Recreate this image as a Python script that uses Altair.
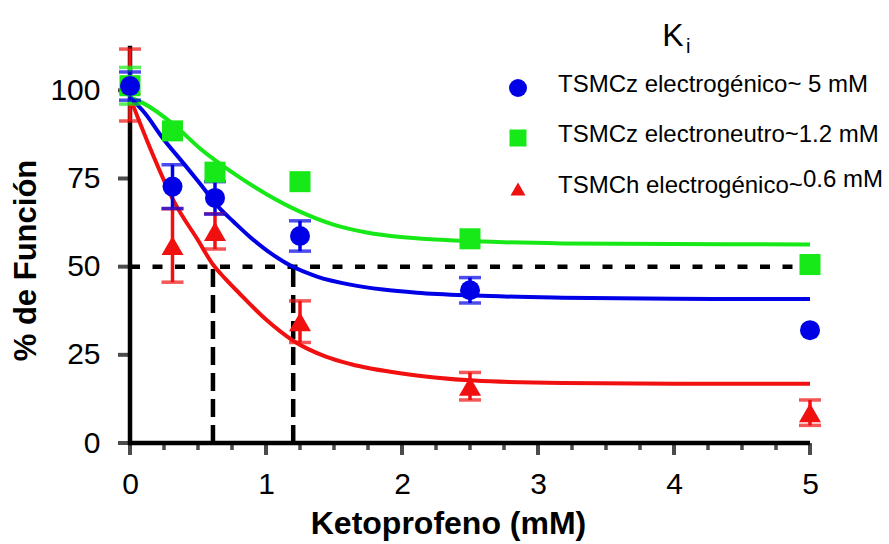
import altair as alt
import pandas as pd

FONT = "Liberation Sans, Arial, Helvetica, sans-serif"

# ---------------- data ----------------
series = ["TSMCh electrogénico", "TSMCz electroneutro", "TSMCz electrogénico"]
colors = ["#f01010", "#17e817", "#0000e6"]
shapes = ["triangle-up", "square", "circle"]
sizes = [484, 400, 441]

dose = [0, 0.3125, 0.625, 1.25, 2.5, 5]

red_mean = [101.5, 56.0, 60.0, 34.4, 16.1, 8.6]
red_err = [10.2, 10.4, 5.0, 5.9, 3.9, 3.6]
green_mean = [101.3, 88.5, 76.8, 74.1, 57.9, 50.6]
green_err = [5.2, 0, 0, 0, 0, 0]
blue_mean = [101.2, 72.7, 69.5, 58.7, 43.3, 32.0]
blue_err = [4.0, 6.2, 4.6, 4.3, 3.6, 0]

red_fit_x = [0, 0.13, 0.33, 0.5, 0.61, 0.7, 0.8, 1.0, 1.2, 1.44, 1.62, 2.0, 2.24, 2.53, 3.18, 4.0, 5.0]
red_fit_y = [98.0, 85.3, 68.0, 57.5, 50.6, 46.6, 42.6, 35.0, 29.0, 24.5, 22.4, 19.7, 18.6, 17.7, 17.0, 16.8, 16.8]
green_fit_x = [0, 0.1, 0.33, 0.515, 0.76, 1.01, 1.25, 1.49, 1.74, 1.99, 2.24, 2.53, 3.18, 4.0, 5.0]
green_fit_y = [98.0, 96.3, 90.0, 83.5, 76.5, 70.4, 65.6, 62.0, 59.7, 58.4, 57.7, 57.2, 56.6, 56.4, 56.3]
blue_fit_x = [0, 0.11, 0.24, 0.4, 0.515, 0.66, 0.76, 0.88, 1.01, 1.18, 1.375, 1.62, 1.86, 2.11, 2.53, 3.18, 4.0, 5.0]
blue_fit_y = [98.0, 93.5, 86.5, 79.0, 73.5, 66.5, 62.8, 58.5, 54.5, 50.3, 47.2, 44.9, 43.5, 42.6, 41.8, 41.2, 40.9, 40.8]

half_level = 50
ki_x = [0.61, 1.2]

x_range = [0, 5]
y_range = [0, 112]
x_major = [0, 1, 2, 3, 4, 5]
x_minor = [i * 0.25 for i in range(21)]
y_ticks = [0, 25, 50, 75, 100]

legend_title = "K"
legend_sub = "i"
legend_texts = ["TSMCz electrogénico~ 5 mM", "TSMCz electroneutro~1.2 mM", "TSMCh electrogénico~"]
legend_sup = "0.6 mM"
legend_order = ["TSMCz electrogénico", "TSMCz electroneutro", "TSMCh electrogénico"]

# ---------------- tables ----------------
pts = []
for s, m, e in zip(series, [red_mean, green_mean, blue_mean], [red_err, green_err, blue_err]):
    for x, y, er in zip(dose, m, e):
        pts.append({"series": s, "x": x, "y": y, "lo": y - er, "hi": y + er, "err": er})
pts = pd.DataFrame(pts)

fit = []
for s, fx, fy in zip(series, [red_fit_x, green_fit_x, blue_fit_x], [red_fit_y, green_fit_y, blue_fit_y]):
    for x, y in zip(fx, fy):
        fit.append({"series": s, "x": x, "y": y})
fit = pd.DataFrame(fit)

hline = pd.DataFrame({"x": [0], "x2": [5], "y": [half_level]})
vlines = pd.DataFrame({"x": ki_x, "y": [0] * len(ki_x), "y2": [half_level] * len(ki_x)})
xline = pd.DataFrame({"x": [x_range[0]], "x2": [x_range[1]], "y": [y_range[0]]})
yline = pd.DataFrame({"x": [x_range[0]], "y": [y_range[0]], "y2": [y_range[1]]})
xmaj_df = pd.DataFrame({"x": x_major})
xmin_df = pd.DataFrame({"x": [v for v in x_minor if v % 1 != 0]})
ytk_df = pd.DataFrame({"y": y_ticks})

xscale = alt.Scale(domain=x_range, nice=False, zero=False)
yscale = alt.Scale(domain=y_range, nice=False)
cscale = alt.Scale(domain=series, range=colors)
shscale = alt.Scale(domain=series, range=shapes)
szscale = alt.Scale(domain=series, range=sizes)

x_axis = alt.Axis(
    values=x_major, format="d", ticks=False, domain=False,
    labelFontSize=30, labelFont=FONT, labelColor="black", labelPadding=26,
    labelFlush=False, grid=False,
    title="Ketoprofeno (mM)", titleFont=FONT, titleFontSize=32, titleFontWeight="bold",
    titleColor="black", titleX=318, titleY=90, titleAlign="center", titleBaseline="alphabetic",
)
y_axis = alt.Axis(
    values=y_ticks, ticks=False, domain=False,
    labelFontSize=30, labelFont=FONT, labelColor="black", labelPadding=30, grid=False,
    title="% de Función", titleFont=FONT, titleFontSize=31, titleFontWeight="bold",
    titleColor="black", titleAngle=270, titleX=-95, titleY=212, titleAlign="center",
    titleBaseline="alphabetic",
)

X = lambda f: alt.X(f, scale=xscale, axis=x_axis)
Y = lambda f: alt.Y(f, scale=yscale, axis=y_axis)

# axis lines and tick marks, drawn from the axis ranges / tick values
x_line = alt.Chart(xline).mark_rule(color="black", strokeWidth=4.5).encode(x=X("x:Q"), x2="x2:Q", y=Y("y:Q"))
y_line = alt.Chart(yline).mark_rule(color="black", strokeWidth=4.5, strokeCap="square").encode(
    x=X("x:Q"), y=Y("y:Q"), y2="y2:Q")
x_major_ticks = alt.Chart(xmaj_df).mark_tick(orient="vertical", color="black", thickness=4, size=12).encode(
    x=X("x:Q"), y=alt.value(401))
x_minor_ticks = alt.Chart(xmin_df).mark_tick(orient="vertical", color="black", thickness=3.5, size=7).encode(
    x=X("x:Q"), y=alt.value(398.5))
y_ticks_m = alt.Chart(ytk_df).mark_tick(orient="horizontal", color="black", thickness=4, size=12).encode(
    y=Y("y:Q"), x=alt.value(-6))

h_dash = alt.Chart(hline).mark_rule(color="black", strokeWidth=4.5, strokeDash=[10, 12.5]).encode(
    x=X("x:Q"), x2="x2:Q", y=Y("y:Q"))
v_dash = alt.Chart(vlines).mark_rule(color="black", strokeWidth=4.5, strokeDash=[18, 8]).encode(
    x=X("x:Q"), y=Y("y:Q"), y2="y2:Q")

curves = alt.Chart(fit).mark_line(strokeWidth=4, interpolate="monotone").encode(
    x=X("x:Q"), y=Y("y:Q"),
    color=alt.Color("series:N", scale=cscale, legend=None),
    detail="series:N",
)

err_src = alt.Chart(pts).transform_filter("datum.err > 0")
err_rule = err_src.mark_rule(strokeWidth=3.5).encode(
    x=X("x:Q"), y=Y("lo:Q"), y2="hi:Q",
    color=alt.Color("series:N", scale=cscale, legend=None),
)
cap_hi = err_src.mark_tick(orient="horizontal", thickness=3.5, size=22).encode(
    x=X("x:Q"), y=Y("hi:Q"), color=alt.Color("series:N", scale=cscale, legend=None))
cap_lo = err_src.mark_tick(orient="horizontal", thickness=3.5, size=22).encode(
    x=X("x:Q"), y=Y("lo:Q"), color=alt.Color("series:N", scale=cscale, legend=None))

points = alt.Chart(pts).mark_point(filled=True, opacity=1, strokeWidth=0).encode(
    x=X("x:Q"), y=Y("y:Q"),
    color=alt.Color("series:N", scale=cscale, legend=None),
    shape=alt.Shape("series:N", scale=shscale, legend=None),
    size=alt.Size("series:N", scale=szscale, legend=None),
)

# ---------------- manual legend ----------------
one = pd.DataFrame({"k": [0]})
leg_layers = []
sym_y = [40, 90, 141]
txt_y = [44, 94, 145]
leg_sizes = {"circle": 324, "square": 289, "triangle-up": 225}
for i, name in enumerate(legend_order):
    j = series.index(name)
    leg_layers.append(alt.Chart(one).mark_point(filled=True, opacity=1, strokeWidth=0).encode(
        x=alt.value(388), y=alt.value(sym_y[i]), color=alt.value(colors[j]),
        shape=alt.value(shapes[j]), size=alt.value(leg_sizes[shapes[j]])))
    leg_layers.append(alt.Chart(one).mark_text(align="left", baseline="alphabetic", fontSize=24,
        font=FONT, color="black").encode(x=alt.value(428), y=alt.value(txt_y[i]),
        text=alt.value(legend_texts[i])))
leg_layers.append(alt.Chart(one).mark_text(align="left", baseline="alphabetic", fontSize=24,
    font=FONT, color="black").encode(x=alt.value(673), y=alt.value(139), text=alt.value(legend_sup)))
leg_layers.append(alt.Chart(one).mark_text(align="center", baseline="alphabetic", fontSize=32,
    font=FONT, color="black").encode(x=alt.value(543), y=alt.value(-2), text=alt.value(legend_title)))
leg_layers.append(alt.Chart(one).mark_text(align="left", baseline="alphabetic", fontSize=20,
    font=FONT, color="black").encode(x=alt.value(556), y=alt.value(5), text=alt.value(legend_sub)))

chart = alt.layer(
    h_dash, v_dash, x_line, y_line, x_major_ticks, x_minor_ticks, y_ticks_m,
    curves, err_rule, cap_hi, cap_lo, points, *leg_layers
).properties(
    width=680, height=395,
    padding={"left": 130, "top": 48, "right": 79, "bottom": 101},
    autosize=alt.AutoSizeParams(type="none"),
    background="white",
).configure_view(stroke=None)

chart.save("out.html", embed_options={"renderer": "svg", "actions": False})
